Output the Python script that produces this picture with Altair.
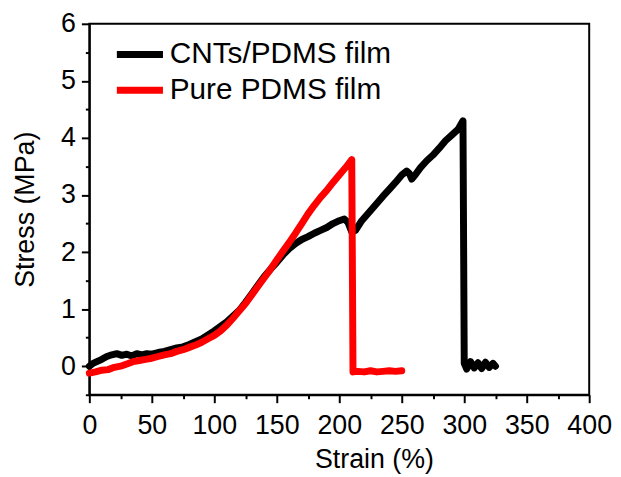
import altair as alt
import pandas as pd

# CNTs/PDMS film (black)
cnt_x = [0, 3, 6, 10, 14, 18, 22, 26, 30, 34, 38, 42, 46, 50, 55, 60, 65, 70, 75, 80,
         85, 90, 95, 100, 105, 110, 115, 120, 125, 130, 135, 140, 145, 150, 155, 160,
         165, 170, 175, 180, 185, 190, 195, 200, 204, 207, 210, 213, 218, 222, 226, 230,
         235, 240, 245, 250, 254, 256, 258, 261, 265, 270, 275, 280, 285, 290, 295, 299,
         300, 302, 305, 308, 311, 314, 317, 320, 323, 325]
cnt_y = [0.00, 0.05, 0.08, 0.12, 0.17, 0.20, 0.22, 0.19, 0.21, 0.18, 0.22, 0.20, 0.22, 0.21,
         0.24, 0.26, 0.29, 0.32, 0.34, 0.38, 0.43, 0.48, 0.55, 0.62, 0.70, 0.78, 0.88, 0.98,
         1.12, 1.27, 1.42, 1.57, 1.70, 1.82, 1.95, 2.06, 2.15, 2.22, 2.27, 2.33, 2.38, 2.43,
         2.50, 2.55, 2.58, 2.52, 2.35, 2.38, 2.55, 2.65, 2.75, 2.85, 2.98, 3.10, 3.22, 3.35,
         3.42, 3.38, 3.28, 3.36, 3.48, 3.60, 3.70, 3.82, 3.95, 4.05, 4.15, 4.30,
         0.05, -0.05, 0.08, -0.03, 0.06, -0.04, 0.07, -0.02, 0.05, 0.00]

# Pure PDMS film (red)
pure_x = [0, 5, 10, 15, 20, 25, 30, 35, 40, 45, 50, 55, 60, 65, 70, 75, 80, 85, 90, 95,
          100, 105, 110, 115, 120, 125, 130, 135, 140, 145, 150, 155, 160, 165, 170, 175,
          180, 185, 190, 195, 200, 205, 208, 210, 211, 215, 220, 225, 230, 235, 240, 245, 250]
pure_y = [-0.12, -0.10, -0.07, -0.06, -0.02, 0.00, 0.04, 0.08, 0.10, 0.12, 0.14, 0.17, 0.20,
          0.22, 0.26, 0.29, 0.33, 0.37, 0.42, 0.48, 0.54, 0.62, 0.72, 0.84, 0.97, 1.10, 1.25,
          1.40, 1.55, 1.70, 1.86, 2.02, 2.17, 2.33, 2.50, 2.67, 2.82, 2.96, 3.08, 3.22, 3.35,
          3.48, 3.56, 3.62, -0.10, -0.09, -0.10, -0.08, -0.10, -0.09, -0.08, -0.09, -0.08]

series_names = ["CNTs/PDMS film", "Pure PDMS film"]
series_colors = ["#000000", "#ff0000"]

x_ticks = list(range(0, 401, 25))
y_ticks = [v / 2 for v in range(-1, 13)]

rows = []
for i, (x, y) in enumerate(zip(cnt_x, cnt_y)):
    rows.append({"strain": x, "stress": y, "series": series_names[0], "idx": i})
for i, (x, y) in enumerate(zip(pure_x, pure_y)):
    rows.append({"strain": x, "stress": y, "series": series_names[1], "idx": i})
df = pd.DataFrame(rows)

FONT = "Liberation Sans"

chart = alt.Chart(df).mark_line(
    strokeWidth=7, strokeCap="round", strokeJoin="round"
).encode(
    x=alt.X("strain:Q",
            scale=alt.Scale(domain=[0, 400], nice=False),
            axis=alt.Axis(
                title="Strain (%)",
                values=x_ticks,
                labelExpr="datum.value % 50 === 0 ? format(datum.value, 'd') : ''",
                labelOverlap=False,
                labelFlush=False,
                tickSize={"condition": {"test": "datum.value % 50 === 0", "value": 8}, "value": 4},
                labelPadding=10,
                titlePadding=8,
                titleX=287,
            )),
    y=alt.Y("stress:Q",
            scale=alt.Scale(domain=[-0.5, 6], nice=False, zero=False),
            axis=alt.Axis(
                title="Stress (MPa)",
                values=y_ticks,
                labelExpr="datum.value % 1 === 0 ? format(datum.value, 'd') : ''",
                labelOverlap=False,
                labelFlush=False,
                tickSize={"condition": {"test": "datum.value % 1 === 0", "value": 8}, "value": 4},
                labelPadding=6,
                titlePadding=21,
            )),
    color=alt.Color("series:N",
                    scale=alt.Scale(domain=series_names, range=series_colors),
                    legend=alt.Legend(
                        title=None,
                        orient="none",
                        legendX=32,
                        legendY=12,
                        symbolType="M-1.5,0H1.5",
                        symbolStrokeWidth=7,
                        symbolSize=961,
                        labelFontSize=30,
                        labelFont=FONT,
                        labelColor="black",
                        labelOffset=11,
                        labelLimit=0,
                        rowPadding=2,
                        padding=0,
                    )),
    order=alt.Order("idx:Q"),
).properties(
    width=504,
    height=374,
    autosize=alt.AutoSizeParams(type="none"),
    padding={"left": 82, "top": 14, "right": 24, "bottom": 80},
).configure_view(
    stroke="black", strokeWidth=2
).configure_axis(
    grid=False,
    domainColor="black",
    domainWidth=2,
    tickColor="black",
    tickWidth=2,
    labelFont=FONT,
    labelFontSize=27,
    labelColor="black",
    titleFont=FONT,
    titleFontSize=27,
    titleFontWeight="normal",
    titleColor="black",
)

chart.save("out.html", embed_options={"renderer": "svg", "actions": False})
